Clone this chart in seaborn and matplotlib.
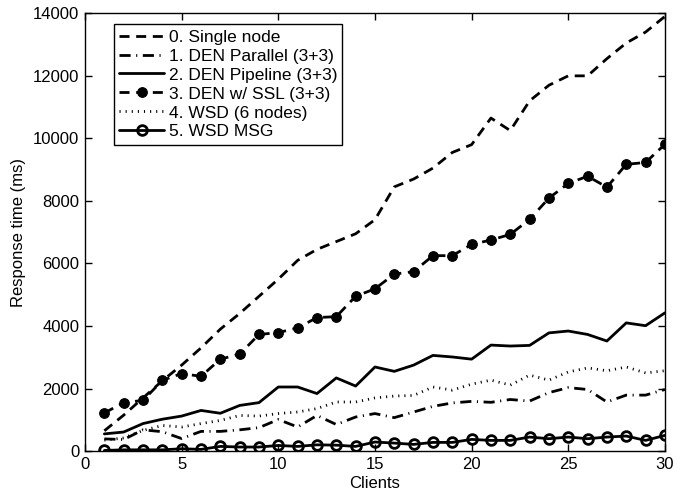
import matplotlib
import matplotlib.pyplot as plt
import pandas as pd
import seaborn as sns

matplotlib.use("Agg")

CLIENTS = list(range(1, 31))

SINGLE_NODE = [650, 1150, 1700, 2250, 2750, 3300, 3900, 4400, 4950, 5500,
               6100, 6450, 6700, 6950, 7400, 8450, 8700, 9050, 9550, 9800,
               10650, 10250, 11200, 11700, 12000, 12000, 12550, 13050, 13400, 13900]
DEN_PARALLEL = [390, 370, 680, 620, 400, 630, 630, 680, 750, 1010,
                770, 1140, 850, 1090, 1200, 1070, 1250, 1430, 1540, 1590,
                1560, 1650, 1600, 1870, 2030, 1970, 1570, 1790, 1790, 1970]
DEN_PIPELINE = [550, 610, 880, 1020, 1120, 1300, 1210, 1460, 1550, 2050,
                2050, 1840, 2340, 2080, 2690, 2550, 2750, 3060, 3010, 2940,
                3390, 3360, 3380, 3780, 3840, 3730, 3520, 4100, 4010, 4420]
DEN_SSL = [1220, 1550, 1620, 2260, 2480, 2390, 2940, 3100, 3730, 3790,
           3940, 4270, 4300, 4950, 5190, 5660, 5740, 6250, 6250, 6610,
           6750, 6930, 7410, 8090, 8560, 8790, 8440, 9170, 9230, 9810]
WSD_6 = [350, 420, 660, 820, 770, 880, 980, 1140, 1120, 1200,
         1250, 1360, 1570, 1570, 1700, 1760, 1780, 2050, 1950, 2140,
         2270, 2110, 2430, 2270, 2530, 2660, 2570, 2690, 2500, 2570]
WSD_MSG = [20, 40, 40, 40, 75, 55, 150, 130, 130, 180,
           150, 200, 190, 150, 290, 256, 214, 278, 278, 374,
           342, 342, 449, 396, 449, 396, 449, 481, 342, 502]

LABELS = [
    "0. Single node",
    "1. DEN Parallel (3+3)",
    "2. DEN Pipeline (3+3)",
    "3. DEN w/ SSL (3+3)",
    "4. WSD (6 nodes)",
    "5. WSD MSG",
]
SERIES = [SINGLE_NODE, DEN_PARALLEL, DEN_PIPELINE, DEN_SSL, WSD_6, WSD_MSG]

STYLES = [
    dict(linestyle=(0, (3.6, 2.4)), marker=None),
    dict(linestyle=(0, (4.0, 2.0, 0.4, 2.0)), marker=None),
    dict(linestyle="-", marker=None),
    dict(linestyle=(0, (3.6, 2.4)), marker="o", markersize=7,
         markerfacecolor="black", markeredgecolor="black"),
    dict(linestyle=(0, (0.4, 1.8)), marker=None),
    dict(linestyle="-", marker="o", markersize=7, markerfacecolor="none",
         markeredgecolor="black", markeredgewidth=2),
]


def main() -> None:
    sns.set_theme(style="ticks")
    plt.rcParams["font.family"] = ["Liberation Sans", "DejaVu Sans"]
    plt.rcParams["xtick.direction"] = "in"
    plt.rcParams["ytick.direction"] = "in"
    plt.rcParams["text.color"] = "black"
    plt.rcParams["axes.labelcolor"] = "black"
    plt.rcParams["xtick.color"] = "black"
    plt.rcParams["ytick.color"] = "black"

    fig = plt.figure(figsize=(6.83, 4.93), dpi=100)
    ax = fig.add_axes([0.1245, 0.085, 0.849, 0.888])

    for label, values, style in zip(LABELS, SERIES, STYLES):
        df = pd.DataFrame({"Clients": CLIENTS, "Response": values})
        sns.lineplot(data=df, x="Clients", y="Response", ax=ax, color="black",
                     linewidth=2, label=label, **style)

    ax.set_xlim(0, 30)
    ax.set_ylim(0, 14000)
    ax.set_xticks(range(0, 31, 5))
    ax.set_yticks(range(0, 14001, 2000))
    ax.tick_params(labelsize=12, length=5, width=1, top=True, right=True,
                   color="black", labelcolor="black", pad=4)
    for spine in ax.spines.values():
        spine.set_visible(True)
        spine.set_color("black")
        spine.set_linewidth(1)
    ax.set_xlabel("Clients", fontsize=12, labelpad=3)
    ax.set_ylabel("Response time (ms)", fontsize=12, labelpad=5)

    leg = ax.legend(loc="upper left", bbox_to_anchor=(0.05, 0.975),
                    borderaxespad=0, fontsize=12.5, handlelength=2.6,
                    handletextpad=0.25, labelspacing=0.22, borderpad=0.3,
                    fancybox=False, framealpha=1)
    leg.get_frame().set_edgecolor("black")
    leg.get_frame().set_linewidth(1)

    fig.savefig("out.png", dpi=100)
    plt.close(fig)


if __name__ == "__main__":
    main()
